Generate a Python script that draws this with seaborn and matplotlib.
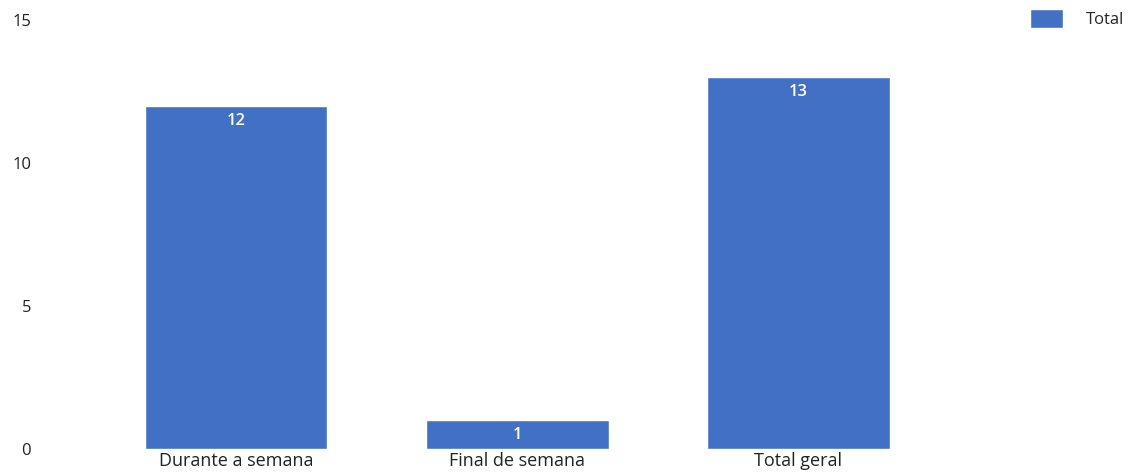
import pandas as pd
import matplotlib.pyplot as plt
import seaborn as sns

# dados
categorias = ['Durante a semana', 'Final de semana', 'Total geral']
totais = [12, 1, 13]
yticks = [0, 5, 10, 15]

df = pd.DataFrame({'Categoria': categorias, 'Total': totais})

sns.set_theme(style="white")
plt.rcParams['font.family'] = ['Open Sans', 'DejaVu Sans']

fig = plt.figure(figsize=(11.3, 4.75), dpi=100)
ax = fig.add_axes([45 / 1130, 26 / 475, 1085 / 1130, 429 / 475])

cor = '#4270C4'
sns.barplot(data=df, x='Categoria', y='Total', color=cor, width=0.65,
            saturation=1, ax=ax, label='Total', legend=False)

# rótulos dentro das barras
for p, v in zip(ax.patches, totais):
    ax.annotate(str(v), (p.get_x() + p.get_width() / 2, p.get_height()),
                xytext=(0, -5), textcoords='offset points', ha='center', va='top',
                color='white', fontsize=12, fontweight='semibold')

ax.set_xlim(-0.68, 3.18)
ax.set_ylim(0, 15)
ax.set_yticks(yticks)
ax.set_xlabel('')
ax.set_ylabel('')
ax.tick_params(axis='y', labelsize=12, colors='#222222', pad=10, length=0)
ax.tick_params(axis='x', labelsize=13, colors='#222222', pad=2, length=0)
sns.despine(ax=ax, left=True, bottom=True)

handles, labels = ax.get_legend_handles_labels()
fig.legend(handles, labels, loc='upper right', frameon=False, fontsize=12,
           handlelength=2.0, handleheight=1.3, handletextpad=1.4,
           bbox_to_anchor=(1128 / 1130, 1 - 6 / 475), borderaxespad=0,
           borderpad=0.2)

fig.savefig('out.png', dpi=100)
